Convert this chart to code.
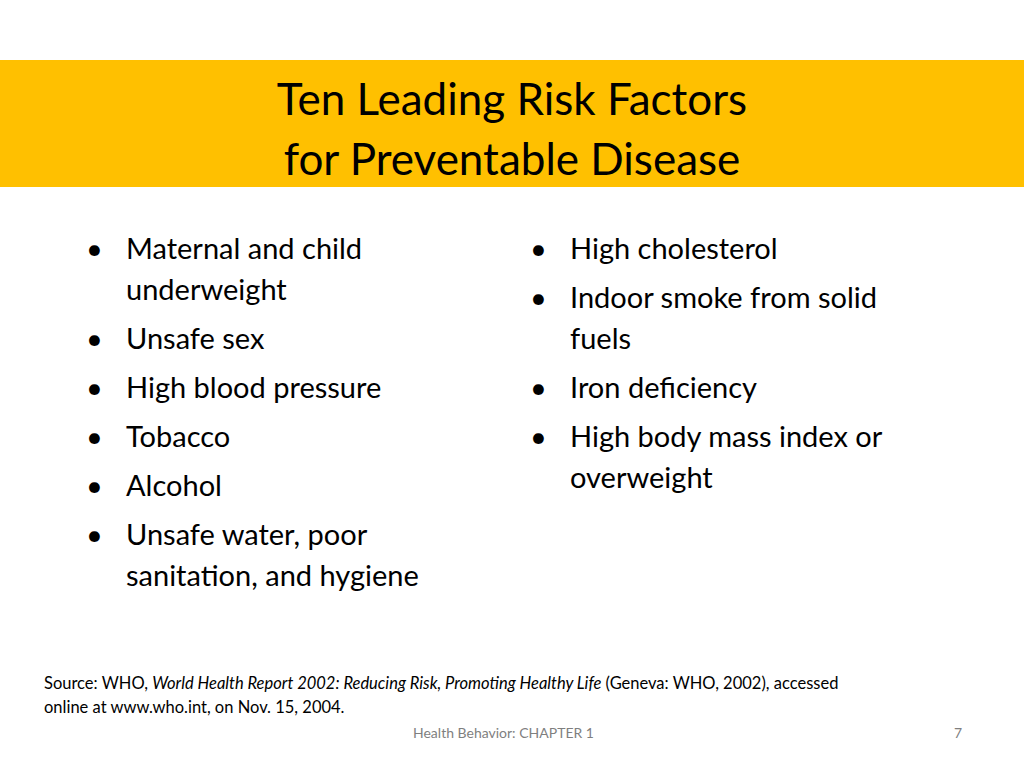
<!DOCTYPE html>
<html><head><meta charset="utf-8">
<script src="https://cdn.jsdelivr.net/npm/chart.js@4"></script>
<style>
html,body{margin:0;padding:0;background:#fff;}
body{width:1024px;height:768px;position:relative;overflow:hidden;font-family:Lato,"Open Sans",sans-serif;color:#000;}
#band{position:absolute;left:0;top:60px;width:1024px;height:127px;background:#FFC000;}
.t{position:absolute;left:0;width:1024px;text-align:center;font-size:44px;line-height:60px;}
.l{position:absolute;font-size:29px;line-height:40px;white-space:nowrap;}
.src{position:absolute;left:44px;font-size:16.5px;line-height:24px;white-space:nowrap;}
.foot{position:absolute;font-size:14px;color:#7f7f7f;}
</style></head><body>
<div id="band"></div>
<div id="root"></div>
<script>
const titleLines = ["Ten Leading Risk Factors", "for Preventable Disease"];
const leftItems = [["Maternal and child","underweight"],["Unsafe sex"],["High blood pressure"],["Tobacco"],["Alcohol"],["Unsafe water, poor","sanitation, and hygiene"]];
const rightItems = [["High cholesterol"],["Indoor smoke from solid","fuels"],["Iron deficiency"],["High body mass index or","overweight"]];
const sourceLines = ['Source: WHO, <i>World Health Report 2002: Reducing Risk, Promoting Healthy Life</i> (Geneva: WHO, 2002), accessed','online at www.who.int, on Nov. 15, 2004.'];
const footerText = "Health Behavior: CHAPTER 1";
const pageNum = "7";

const root = document.getElementById('root');
function add(cls, html, css){const d=document.createElement('div');d.className=cls;d.innerHTML=html;Object.assign(d.style,css);root.appendChild(d);}
titleLines.forEach((t,i)=>add('t',t,{top:(68+i*60)+'px'}));
function col(items, bx, tx){
  let y=228;
  items.forEach(it=>{
    add('l','•',{left:bx+'px',top:y+'px'});
    it.forEach((line,j)=>{add('l',line,{left:tx+'px',top:y+'px'}); y+= (j<it.length-1)?41:49;});
  });
}
col(leftItems,86,126);
col(rightItems,530,570);
sourceLines.forEach((s,i)=>add('src',s,{top:(671+i*24)+'px'}));
add('foot',footerText,{left:'413px',top:'724px'});
add('foot',pageNum,{left:'954px',top:'724px'});
</script>
</body></html>
